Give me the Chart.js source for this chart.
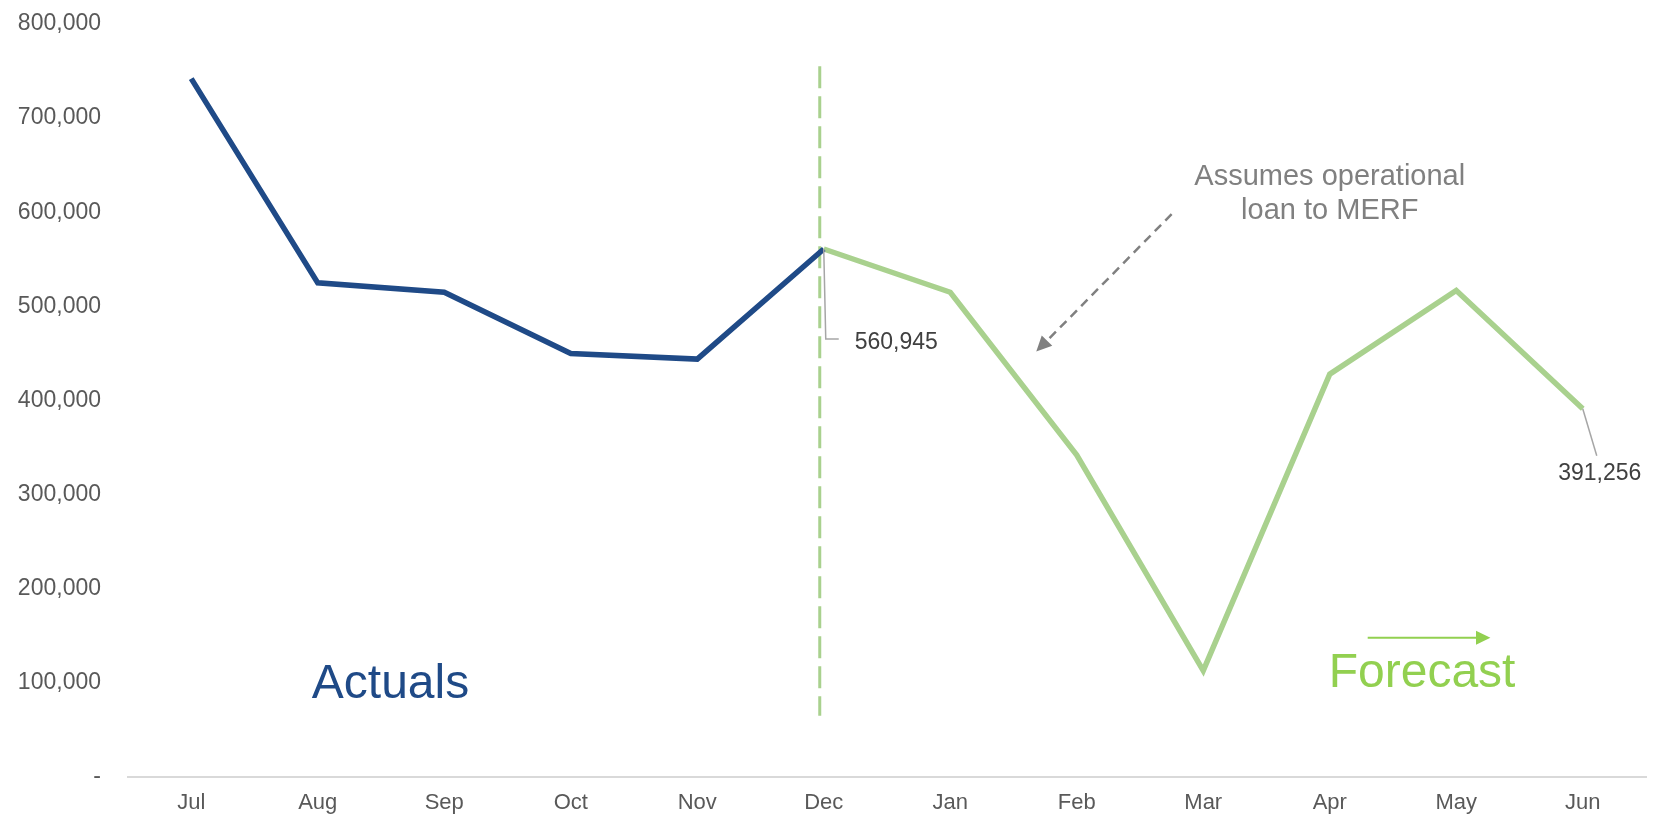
<!DOCTYPE html>
<html>
<head>
<meta charset="utf-8">
<script src="https://cdn.jsdelivr.net/npm/chart.js@4/dist/chart.umd.min.js"></script>
<style>
  html, body { margin: 0; padding: 0; background: #fff; }
  #wrap { width: 1663px; height: 814px; }
</style>
</head>
<body>
<div id="wrap"><canvas id="grafico"></canvas></div>
<script>
// valores
const meses = ['Jul', 'Aug', 'Sep', 'Oct', 'Nov', 'Dec', 'Jan', 'Feb', 'Mar', 'Apr', 'May', 'Jun'];
const realizado = [742000, 525000, 515000, 450000, 444000, 560945, null, null, null, null, null, null];
const previsto = [null, null, null, null, null, 560945, 515000, 342000, 113000, 428000, 517000, 391256];
const rotuloDez = '560,945';
const rotuloJun = '391,256';
const notaLinhas = ['Assumes operational', 'loan to MERF'];

const azul = '#1f4a87';
const verdeLinha = '#a9d18e';
const verdeTexto = '#92d050';
const cinzaTexto = '#595959';
const fonte = '"Liberation Sans", Arial, sans-serif';

function seta(ctx, x1, y1, x2, y2, cor, tam) {
    const ang = Math.atan2(y2 - y1, x2 - x1);
    ctx.save();
    ctx.fillStyle = cor;
    ctx.setLineDash([]);
    ctx.beginPath();
    ctx.moveTo(x2, y2);
    ctx.lineTo(x2 - tam * Math.cos(ang - 0.45), y2 - tam * Math.sin(ang - 0.45));
    ctx.lineTo(x2 - tam * Math.cos(ang + 0.45), y2 - tam * Math.sin(ang + 0.45));
    ctx.closePath();
    ctx.fill();
    ctx.restore();
}

// anotações desenhadas por cima das séries
const anotacoes = {
    id: 'anotacoes',
    beforeDatasetsDraw(chart) {
        const { ctx, scales: { x, y } } = chart;
        // linha tracejada separando realizado / previsto
        const xd = x.getPixelForValue(5) - 4;
        ctx.save();
        ctx.strokeStyle = verdeLinha;
        ctx.lineWidth = 3;
        ctx.setLineDash([22, 8]);
        ctx.beginPath();
        ctx.moveTo(xd, y.getPixelForValue(755000));
        ctx.lineTo(xd, y.getPixelForValue(65000));
        ctx.stroke();
        ctx.restore();
    },
    afterDatasetsDraw(chart) {
        const { ctx, scales: { x, y } } = chart;
        ctx.save();
        ctx.font = '23px ' + fonte;
        ctx.fillStyle = '#404040';
        ctx.textBaseline = 'middle';

        // rótulo de dezembro
        const px = x.getPixelForValue(5), py = y.getPixelForValue(560945);
        ctx.strokeStyle = '#a6a6a6';
        ctx.lineWidth = 1.5;
        ctx.beginPath();
        ctx.moveTo(px, py);
        ctx.lineTo(px + 2, py + 90);
        ctx.lineTo(px + 15, py + 90);
        ctx.stroke();
        ctx.textAlign = 'left';
        ctx.fillText(rotuloDez, px + 31, py + 94);

        // rótulo de junho
        const jx = x.getPixelForValue(11), jy = y.getPixelForValue(391256);
        ctx.beginPath();
        ctx.moveTo(jx, jy);
        ctx.lineTo(jx + 14, jy + 47);
        ctx.stroke();
        ctx.textAlign = 'center';
        ctx.fillText(rotuloJun, jx + 17, jy + 65);

        // nota sobre o empréstimo
        ctx.font = '29px ' + fonte;
        ctx.fillStyle = '#808080';
        const nx = x.getPixelForValue(9.0);
        ctx.fillText(notaLinhas[0], nx, y.getPixelForValue(637000));
        ctx.fillText(notaLinhas[1], nx, y.getPixelForValue(601000));

        // seta tracejada cinza
        const ax1 = x.getPixelForValue(7.75), ay1 = y.getPixelForValue(598000);
        const ax2 = x.getPixelForValue(6.68), ay2 = y.getPixelForValue(452000);
        ctx.strokeStyle = '#808080';
        ctx.lineWidth = 2.5;
        ctx.setLineDash([9, 6]);
        ctx.beginPath();
        ctx.moveTo(ax1, ay1);
        ctx.lineTo(ax2 + 8, ay2 - 8);
        ctx.stroke();
        seta(ctx, ax1, ay1, ax2, ay2, '#808080', 17);

        // textos grandes
        ctx.setLineDash([]);
        ctx.font = '48px ' + fonte;
        ctx.fillStyle = azul;
        ctx.fillText('Actuals', x.getPixelForValue(1.575), y.getPixelForValue(98000));
        ctx.fillStyle = verdeTexto;
        ctx.fillText('Forecast', x.getPixelForValue(9.73), y.getPixelForValue(110000));

        // seta verde
        const fx1 = x.getPixelForValue(9.3), fx2 = x.getPixelForValue(10.27), fy = y.getPixelForValue(148000);
        ctx.strokeStyle = verdeTexto;
        ctx.lineWidth = 2;
        ctx.beginPath();
        ctx.moveTo(fx1, fy);
        ctx.lineTo(fx2 - 10, fy);
        ctx.stroke();
        seta(ctx, fx1, fy, fx2, fy, verdeTexto, 16);
        ctx.restore();
    }
};

new Chart(document.getElementById('grafico'), {
    type: 'line',
    data: {
        labels: meses,
        datasets: [
            {
                label: 'Actuals',
                data: realizado,
                borderColor: azul,
                borderWidth: 5.5,
                pointRadius: 0,
                tension: 0,
                fill: false
            },
            {
                label: 'Forecast',
                data: previsto,
                borderColor: verdeLinha,
                borderWidth: 5.5,
                pointRadius: 0,
                tension: 0,
                fill: false
            }
        ]
    },
    options: {
        responsive: true,
        maintainAspectRatio: false,
        animation: false,
        layout: { padding: { top: 0, right: 17, bottom: 0, left: 0 } },
        plugins: {
            legend: { display: false },
            tooltip: { enabled: false }
        },
        scales: {
            x: {
                offset: true,
                grid: { display: false, drawTicks: false },
                border: { display: true, color: '#d9d9d9', width: 2 },
                ticks: {
                    color: cinzaTexto,
                    font: { family: fonte, size: 22 },
                    padding: 13
                },
                afterFit: s => { s.height = 37; }
            },
            y: {
                min: 0,
                max: 800000,
                grid: { display: false, drawTicks: false },
                border: { display: false },
                ticks: {
                    stepSize: 100000,
                    color: cinzaTexto,
                    padding: 27,
                    font: { family: fonte, size: 23 },
                    callback: v => v === 0 ? '-' : v.toLocaleString('en-US')
                },
                afterFit: s => { s.width = 128; s.paddingTop = 24; s.paddingBottom = 0; }
            }
        }
    },
    plugins: [anotacoes]
});
</script>
</body>
</html>
